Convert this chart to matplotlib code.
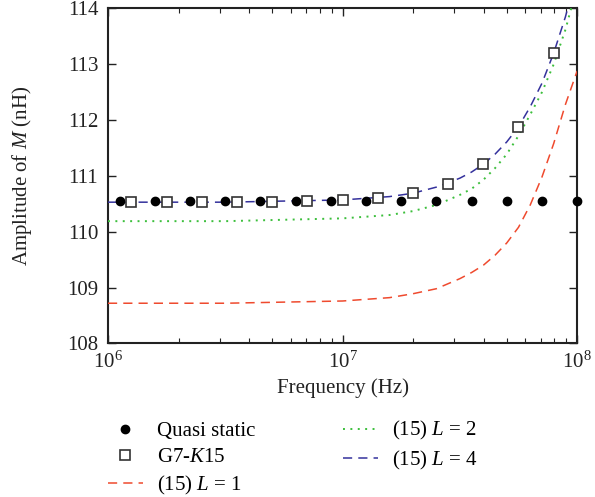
import matplotlib
matplotlib.use("Agg")
import matplotlib.pyplot as plt
from matplotlib.ticker import LogLocator, NullFormatter, FixedLocator

plt.rcParams['font.family'] = ['Liberation Serif', 'DejaVu Serif']
plt.rcParams['mathtext.fontset'] = 'custom'
plt.rcParams['mathtext.rm'] = 'Liberation Serif'
plt.rcParams['mathtext.it'] = 'Liberation Serif:italic'

# Quasi static points
qs_freq = [1.122e6, 1.585e6, 2.239e6, 3.162e6, 4.467e6, 6.310e6, 8.913e6,
           1.259e7, 1.778e7, 2.512e7, 3.548e7, 5.012e7, 7.079e7, 1.0e8]
qs_vals = [110.55] * 14

# G7-K15 points
g7_freq = [1.259e6, 1.778e6, 2.512e6, 3.548e6, 5.012e6, 7.079e6, 1.0e7,
           1.413e7, 1.995e7, 2.818e7, 3.981e7, 5.623e7, 7.943e7]
g7_vals = [110.54, 110.54, 110.54, 110.54, 110.54, 110.55, 110.57,
           110.61, 110.69, 110.86, 111.22, 111.88, 113.20]

# Curves of (15)
curve_freq = [1.0e6, 3.162e6, 1.0e7, 1.585e7, 1.995e7, 2.512e7, 3.162e7, 3.548e7,
              3.981e7, 4.467e7, 5.012e7, 5.623e7, 6.310e7, 7.079e7, 7.943e7,
              8.913e7, 1.0e8]
L1_vals = [108.72, 108.72, 108.76, 108.82, 108.89, 108.98, 109.16, 109.27,
           109.40, 109.58, 109.80, 110.08, 110.48, 110.98, 111.58, 112.28, 112.88]
L2_vals = [110.19, 110.19, 110.24, 110.30, 110.37, 110.48, 110.66, 110.77,
           110.93, 111.14, 111.39, 111.72, 112.10, 112.50, 113.00, 113.62, 114.40]
L4_vals = [110.53, 110.53, 110.57, 110.63, 110.69, 110.80, 110.96, 111.07,
           111.21, 111.39, 111.61, 111.88, 112.24, 112.66, 113.20, 113.85, 114.65]

y_ticks = [108, 109, 110, 111, 112, 113, 114]

fig = plt.figure(figsize=(5.95, 4.97), dpi=100)
ax = fig.add_axes([0.1815, 0.309, 0.7885, 0.674])

red = '#ef4a2e'
green = '#3cbf3c'
blue = '#34319c'

ax.plot(curve_freq, L4_vals, linestyle=(0, (6, 4)), color=blue, lw=1.1, zorder=3,
        label=r'(15) $L$ = 4')
ax.plot(curve_freq, L2_vals, linestyle=(0, (1, 2.8)), color=green, lw=1.4, zorder=3,
        label=r'(15) $L$ = 2')
ax.plot(curve_freq, L1_vals, linestyle=(0, (6, 4)), color=red, lw=1.1, zorder=3,
        label=r'(15) $L$ = 1')
ax.plot(qs_freq, qs_vals, 'o', color='black', markersize=6.0, linestyle='none',
        zorder=5, clip_on=False, label='Quasi static')
ax.plot(g7_freq, g7_vals, 's', markerfacecolor='white', markeredgecolor='#333333',
        markeredgewidth=1.2, markersize=7, linestyle='none', zorder=6,
        label=r'G7-$K$15')

ax.set_xscale('log')
ax.set_xlim(1e6, 1e8)
ax.set_ylim(108, 114)
ax.yaxis.set_major_locator(FixedLocator(y_ticks))
ax.xaxis.set_major_locator(LogLocator(base=10, numticks=10))
ax.xaxis.set_minor_locator(LogLocator(base=10, subs=range(2, 10), numticks=100))
ax.xaxis.set_minor_formatter(NullFormatter())

ax.tick_params(which='both', direction='in', top=True, right=True, labelsize=15,
               colors='#222222')
ax.tick_params(which='major', length=6, width=1.0)
ax.tick_params(which='minor', length=3.5, width=0.8)
ax.tick_params(axis='x', pad=6)
ax.tick_params(axis='y', pad=7)
for s in ax.spines.values():
    s.set_linewidth(1.5)
    s.set_color('#222222')

ax.set_xlabel('Frequency (Hz)', fontsize=15, labelpad=4, color='#222222')
ax.set_ylabel(r'Amplitude of $M$ (nH)', fontsize=15, labelpad=24, color='#222222')

handles, labels = ax.get_legend_handles_labels()
order = [3, 4, 2, 1, 0]
fig.legend([handles[i] for i in order], [labels[i] for i in order],
           loc='upper left', bbox_to_anchor=(0.1815, 0.156), ncol=2, frameon=False,
           fontsize=15, handlelength=1.68, handletextpad=0.67, columnspacing=4.2,
           labelspacing=0.32, borderpad=0, borderaxespad=0)

fig.savefig('out.png', dpi=100)
